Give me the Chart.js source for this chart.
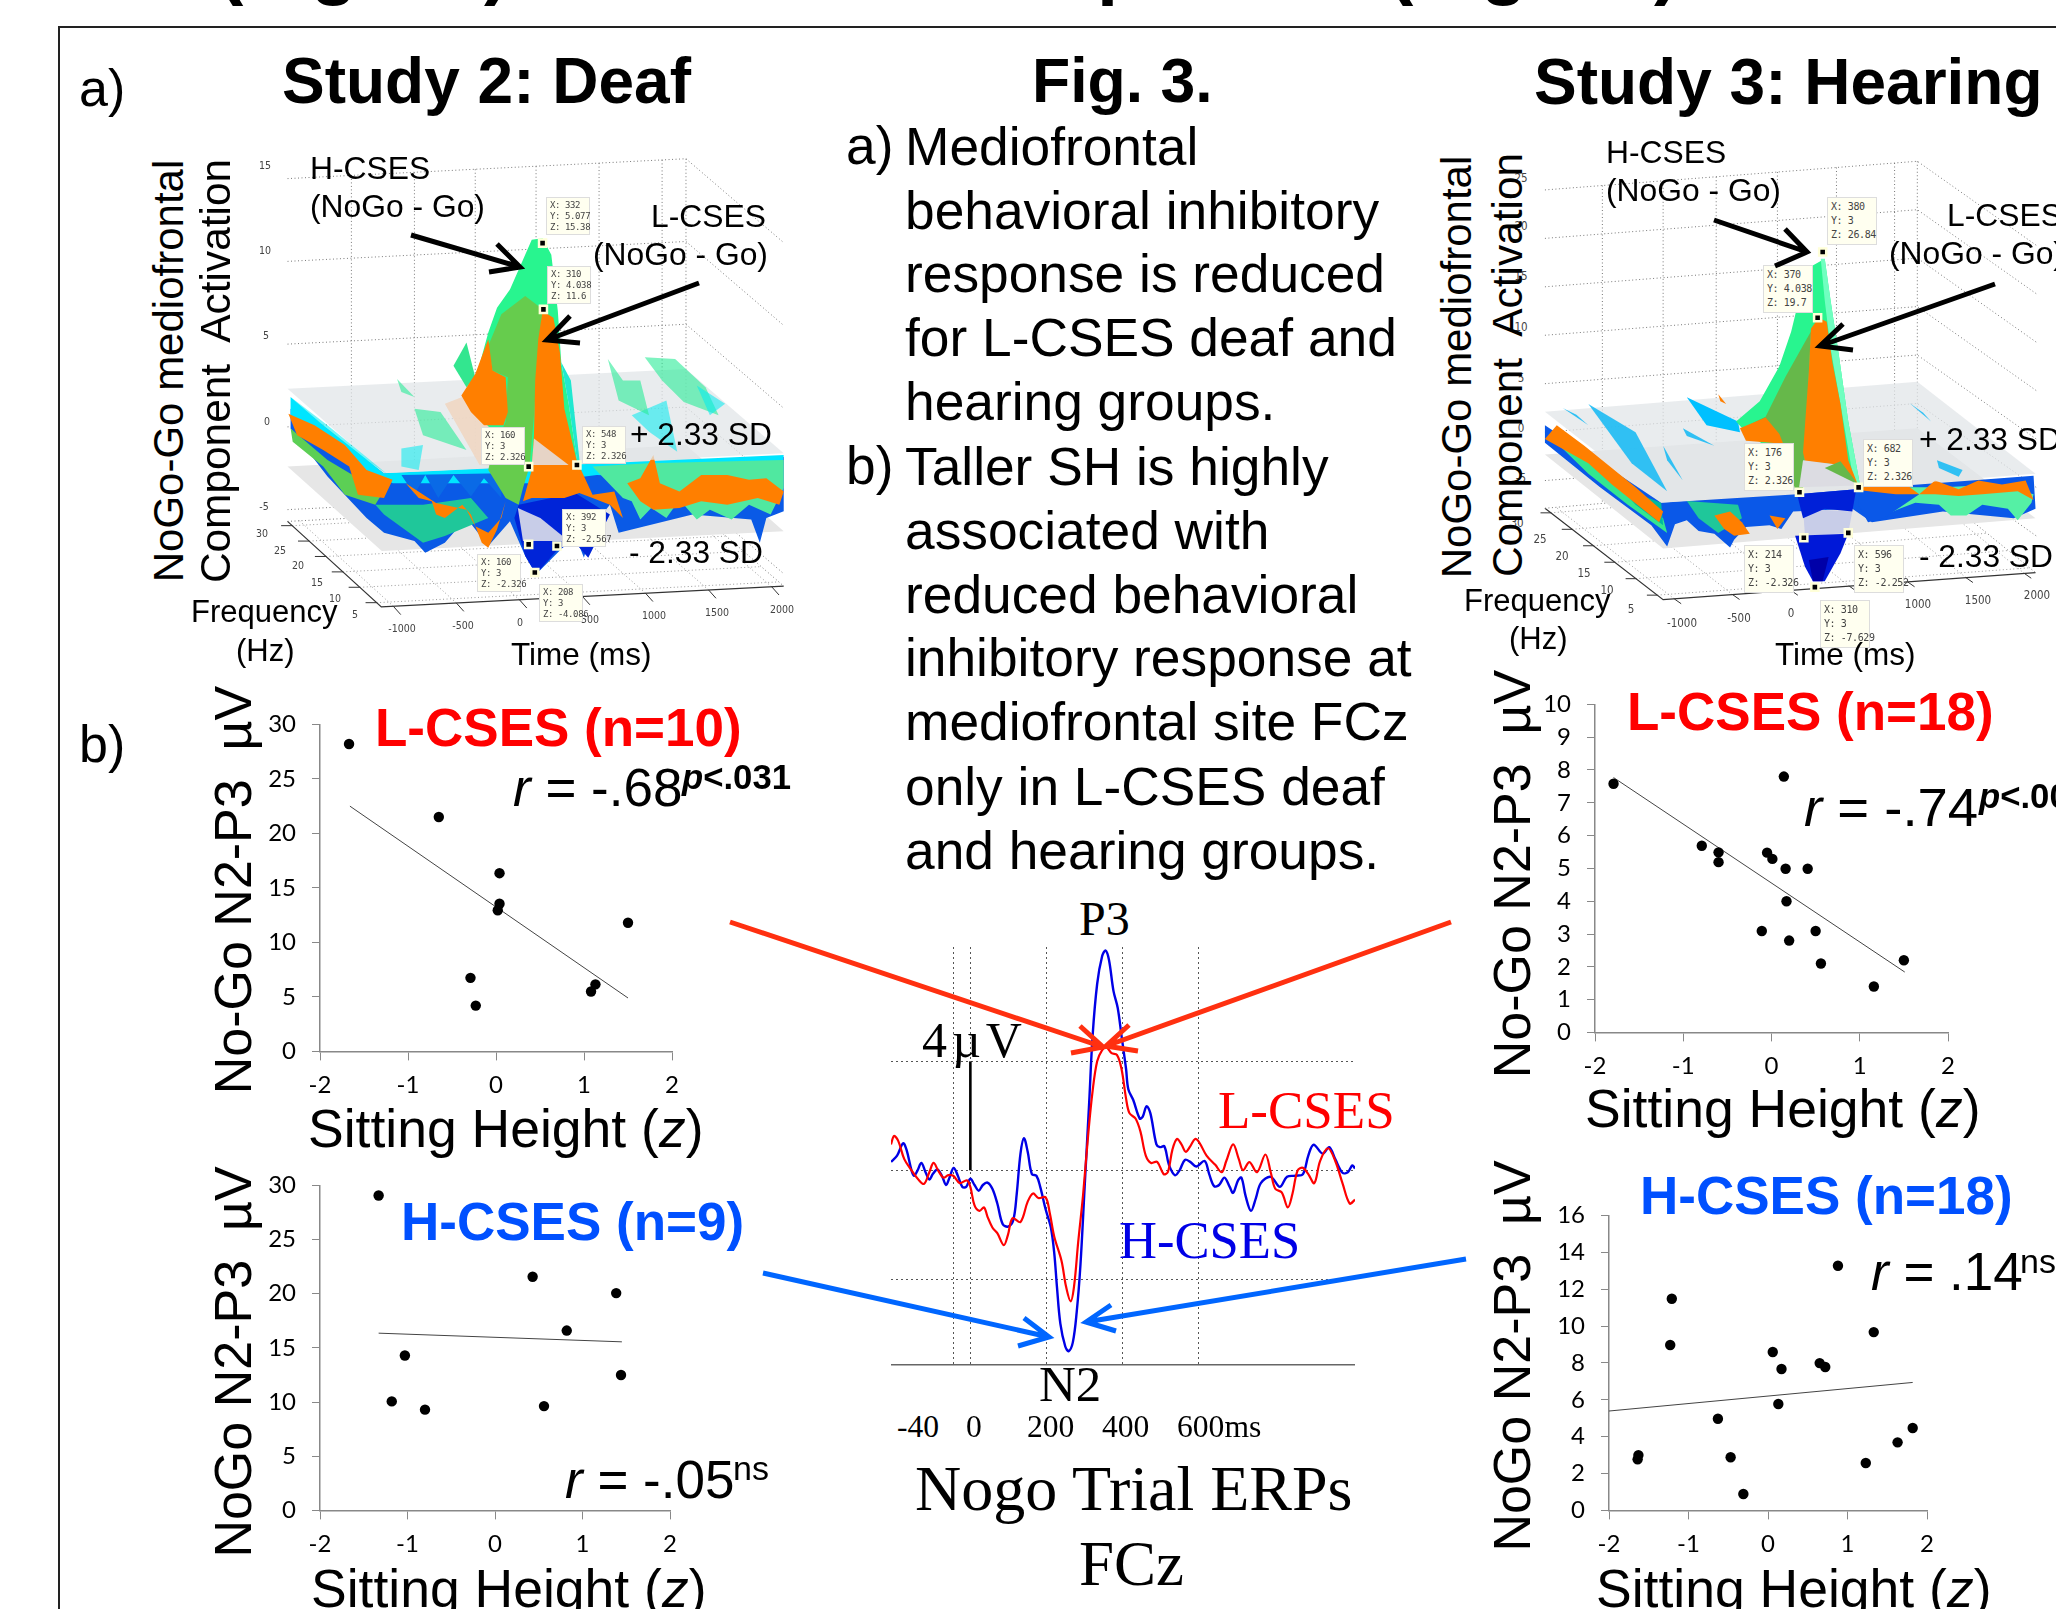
<!DOCTYPE html>
<html>
<head>
<meta charset="utf-8">
<title>Fig. 3</title>
<script src="https://cdn.jsdelivr.net/npm/chart.js@4/dist/chart.umd.min.js"></script>
<style>
  html, body { margin: 0; background: #fff; }
  #stage { position: relative; width: 2056px; height: 1609px; overflow: hidden; background: #fff; }
  #stage canvas { position: absolute; }
  #frame { position: absolute; left: 58px; top: 26px; width: 2100px; height: 1700px; border-left: 2px solid #222; border-top: 2px solid #222; }
  #arrows { position: absolute; left: 0; top: 0; z-index: 5; }
  .t { position: absolute; white-space: pre; line-height: 1; color: #000; z-index: 4; font-family: "Liberation Sans", sans-serif; }
  .tip { position: absolute; white-space: pre; background: #fffff0; border: 1px solid #ddd; color: #444; z-index: 3; font-family: "DejaVu Sans Mono", monospace; padding: 2px 1px 0 3px; box-sizing: border-box; }
</style>
</head>
<body>
<div id="stage">
  <div id="frame"></div>
  <svg id="arrows" width="2056" height="1609" fill="none" stroke-width="5">
    <g stroke="#ff3010">
      <path d="M730 922L1103 1047M1080 1026L1103 1047L1071 1053"/>
      <path d="M1451 922L1106 1046M1129 1025L1106 1046L1138 1051"/>
    </g>
    <g stroke="#0066ff">
      <path d="M763 1273L1049 1337M1024 1318L1049 1337L1018 1346"/>
      <path d="M1466 1259L1086 1322M1111 1305L1086 1322L1116 1331"/>
    </g>
    <g stroke="#000">
      <path d="M411 235L520 267M497 244L520 267L489 272"/>
      <path d="M699 283L547 340M570 316L547 340L580 343"/>
      <path d="M1714 220L1807 252M1785 229L1807 252L1775 266"/>
      <path d="M1995 284L1820 346M1843 324L1820 346L1853 350"/>
    </g>
  </svg>
</div>
<script>
// scatter panels: sitting height z against N2-P3 amplitude
const deafLowX = [-1.67, -0.65, 0.04, 0.04, 0.02, 1.5, -0.29, -0.23, 1.08, 1.13]
const deafLowY = [28.2, 21.5, 16.35, 13.55, 12.95, 11.8, 6.75, 4.2, 5.5, 6.15]
const deafLowTrend = [[-1.66, 22.5], [1.5, 4.9]]

const deafHighX = [-1.33, 0.43, 1.385, 0.82, -1.03, 1.44, -1.18, -0.8, 0.56]
const deafHighY = [29.07, 21.57, 20.06, 16.6, 14.3, 12.5, 10.06, 9.3, 9.63]
const deafHighTrend = [[-1.33, 16.36], [1.45, 15.56]]

const hearLowX = [-1.79, 0.14, -0.79, -0.6, -0.6, -0.05, 0.01, 0.16, 0.41, 0.17, -0.11, 0.5, 0.2, 0.56, 1.16, 1.5]
const hearLowY = [7.58, 7.8, 5.69, 5.49, 5.19, 5.48, 5.29, 4.99, 4.99, 4.0, 3.09, 3.09, 2.8, 2.1, 1.4, 2.2]
const hearLowTrend = [[-1.79, 7.77], [1.51, 1.84]]

const hearHighX = [0.88, -1.21, -1.23, 1.33, 0.06, 0.17, 0.65, 0.72, 0.13, -0.63, -0.47, -0.31, -1.63, -1.64, 1.23, 1.63, 1.82]
const hearHighY = [13.27, 11.48, 8.97, 9.67, 8.59, 7.67, 7.99, 7.78, 5.77, 4.97, 2.88, 0.89, 3.0, 2.77, 2.57, 3.69, 4.47]
const hearHighTrend = [[-2, 5.39], [1.82, 6.94]]

// ERP traces at FCz
const blueMs = [-209, -193, -177, -168, -155, -148, -139, -129, -118, -108, -99, -87, -75, -64, -55, -44, -33, -21, -11, 0, 11, 22, 33, 45, 58, 71, 85, 99, 113, 122, 132, 141, 151, 162, 174, 184, 198, 212, 221, 228, 237, 250, 259, 270, 280, 290, 301, 313, 322, 334, 347, 356, 365, 377, 388, 398, 410, 416, 429, 446, 454, 464, 474, 490, 499, 511, 523, 539, 551, 565, 579, 595, 617, 629, 642, 655, 669, 683, 692, 705, 714, 725, 739, 752, 765, 791, 815, 834, 857, 876, 890, 904, 928, 945, 961, 980, 994, 1006, 1013]
const blueUv = [0.31, 0.54, 0.99, 0.75, 0, -0.2, 0, 0.27, -0.07, -0.34, -0.14, 0.03, -0.2, -0.54, -0.27, 0.09, -0.2, -0.61, -0.61, -0.31, -0.54, -0.75, -0.54, -0.45, -0.68, -1.22, -1.97, -2.07, -1.83, -0.88, 0.61, 1.18, 0.68, -0.14, -0.2, -0.61, -1.42, -2.1, -3.05, -4.27, -5.63, -6.47, -6.64, -6.31, -5.22, -3.46, -0.61, 2.51, 4.95, 6.85, 7.86, 8.07, 7.73, 6.58, 5.97, 4.95, 3.73, 2.98, 2.58, 1.9, 1.97, 2.35, 2.1, 0.95, 0.85, 0.88, 0.2, -0.18, 0, 0.38, 0.31, 0.14, 0.34, -0.14, -0.58, -0.54, -0.27, -0.61, -0.83, -0.37, -0.27, -0.95, -1.49, -1.02, -0.47, -0.24, -0.61, -0.24, -0.2, -0.14, 0.54, 0.94, 0.61, 0.85, 0.41, -0.09, -0.07, 0.18, 0.07]
const redMs = [-209, -201, -190, -174, -155, -137, -122, -108, -97, -85, -71, -58, -45, -28, -9, 0, 11, 24, 36, 45, 58, 71, 88, 99, 111, 132, 151, 165, 179, 198, 209, 221, 240, 252, 264, 273, 284, 297, 311, 322, 334, 347, 358, 372, 386, 398, 410, 419, 435, 448, 462, 476, 492, 509, 520, 532, 544, 556, 567, 579, 592, 603, 622, 645, 662, 674, 692, 707, 718, 735, 755, 777, 791, 803, 820, 836, 848, 862, 876, 890, 906, 921, 942, 961, 980, 999, 1013]
const redUv = [0.95, 1.26, 1.08, 0.41, 0, -0.34, -0.5, -0.07, 0.27, 0, -0.27, -0.18, -0.2, -0.47, -0.37, -0.61, -1.29, -1.49, -1.36, -1.7, -2.1, -2.31, -2.75, -2.37, -1.76, -1.9, -1.15, -0.85, -1.02, -0.99, -1.56, -2.44, -3.32, -4.27, -4.81, -4.27, -2.64, -0.88, 1.42, 2.92, 4.0, 4.41, 4.52, 4.3, 4.24, 3.73, 2.64, 2.1, 1.9, 1.42, 0.54, 0.27, 0.31, -0.14, -0.07, 0.75, 1.15, 0.95, 0.68, 0.88, 1.15, 1.02, 0.54, 0.2, -0.07, 0.34, 0.95, 0.41, 0, 0.3, -0.07, 0.58, -0.07, -0.68, -0.81, -1.36, -0.88, 0, 0.09, -0.14, -0.47, 0.34, 0.81, 0.34, -0.47, -1.22, -1.08]
const erpGridMs = [-45, 0, 200, 400, 600]
const erpGridUv = [-4, 0, 4]
const erpBarUv = [0, 4]

// Study 2 surface, outlines as [time ms, activation] in the projected view
const deafLowerPlane = [[-1878, -2.4], [1359, -1.1], [2153, -6.3], [-1112, -7.5]]
const deafUpperPlane = [[-1878, 2.3], [1359, 3.5], [2153, -1.6], [-1094, -2.8]]
const deafBlue = [[-1853, 1.1], [-1094, -2.8], [106, -2.6], [2153, -1.8], [2153, -5.1], [2012, -5.5], [1959, -7], [1889, -5.6], [1412, -5.3], [812, -6.4], [741, -4.7], [600, -6], [530, -7.9], [441, -6.2], [371, -7.2], [141, -8.9], [53, -7.8], [-71, -5.7], [-247, -7.2], [-424, -5.5], [-600, -7], [-759, -7.6], [-847, -6.9], [-1094, -6.4], [-1236, -5.5], [-1553, -3], [-1853, -0.1]]
const deafDeep = [[0, -4.7], [459, -4], [741, -5.3], [565, -7.9], [459, -7], [318, -7.4], [141, -8.9], [53, -7.8], [-35, -5.5]]
const deafWedge = [[-7, -4.9], [176, -5.5], [406, -6.9], [35, -6.9]]
const deafCyan = [[-1853, 1.8], [-1588, 0.1], [-1094, -2.8], [2153, -1.7], [2118, -3.4], [1518, -3.2], [635, -2.9], [106, -3.4], [-600, -3.4], [-1024, -3.4], [-1412, -2], [-1853, 0.7]]
const deafBlueSpikes = [[-953, -2.9], [-847, -4.1], [-759, -2.9], [-653, -4.3], [-530, -2.9], [-388, -4.2], [-282, -3.1], [-141, -4.3], [-141, -2.8]]
const deafGreenRight = [[918, -4.5], [988, -5.6], [1077, -4.9], [1200, -5.5], [1306, -4.4], [1447, -5.6], [1553, -5], [1730, -5.6], [1871, -4.7], [2047, -5.3], [2153, -3.7], [2153, -2], [1059, -2.2], [600, -2.4], [847, -4.3]]
const deafGreenMid = [[-1165, -4.7], [-777, -4.7], [-388, -4.3], [-247, -5.5], [-600, -6.6], [-777, -7], [-1094, -5.3]]
const deafGreenLeft = [[-1853, -0.1], [-1553, -2], [-1236, -3.4], [-1059, -3.4], [-1165, -4.7], [-1412, -4.1], [-1588, -2.4], [-1836, -0.9]]
const deafOrangeLeft = [[-1871, 0.8], [-1659, 0.1], [-1412, -1.1], [-1236, -2.6], [-1024, -3.2], [-1094, -4.3], [-1306, -4.1], [-1377, -2.4], [-1588, -1.4], [-1800, -0.5]]
const deafOrangeMid = [[-918, -3.4], [-812, -4.3], [-706, -4.5], [-671, -5.3], [-600, -5.5], [-459, -4.7], [-388, -5.3], [-300, -7], [-247, -7.3], [-176, -6.2], [-106, -4.5], [-141, -5.5], [-247, -6.4], [-353, -6], [-424, -5], [-671, -4.6]]
const deafOrangeRight = [[882, -3.4], [988, -3.1], [1094, -1.7], [1147, -3.4], [1306, -3.9], [1483, -2.9], [1695, -2.9], [1871, -3.2], [2012, -3.1], [2153, -3.9], [2118, -4.7], [1942, -4.3], [1695, -4.7], [1483, -4.5], [1306, -4.9], [1094, -5], [988, -4.5]]
const deafOrangeCentre = [[494, -2.4], [600, -4.1], [777, -3.9], [847, -5.5], [741, -4.7], [600, -4.3], [459, -3.9]]
const deafPatchA = [[1024, 4.2], [1271, 4.1], [1518, 2.4], [1624, 0.7], [1341, 1.5], [1165, 2.8]]
const deafPatchB = [[918, 0.7], [1200, 1.6], [1288, -1.5], [1059, -0.3]]
const deafPatchC = [[1447, 2.5], [1677, 1.4], [1553, 0.7]]
const deafPatchD = [[-988, 2.9], [-847, 1.8], [-953, 2.1]]
const deafPatchE = [[-847, 1.1], [-635, 0.9], [-424, -1.4], [-777, -0.5]]
const deafPatchF = [[-530, 3.7], [-424, 5.1], [-353, 3], [-424, 2.4]]
const deafPatchG = [[-1853, 1.8], [-1553, 0.1], [-1059, -2.9], [-1412, -1.1]]
const deafPatchH = [[724, 4.1], [847, 2.8], [988, 2.8], [1059, 0.7], [812, 1.6]]
const deafPatchI = [[-953, -1.3], [-777, -1.1], [-812, -2.6], [-953, -2.4]]
const deafPeakGreen = [[-353, 2.8], [-247, 5.7], [-176, 7.2], [-71, 8.3], [35, 10.1], [106, 11.3], [194, 11.4], [265, 10.4], [318, 7], [346, 3.9], [406, 1.4], [476, -2.1], [106, -2.3], [-71, -1.4], [-353, 0.9]]
const deafPeakTail = [[346, 3.9], [424, 2.8], [494, -2], [476, -2.1], [406, 1.4]]
const deafPeakDark = [[-247, 4.9], [-141, 6.8], [53, 7.9], [194, 7.1], [159, 4.5], [124, 0.7], [88, -2.4], [35, -3.7], [0, -4.7], [-106, -4.3], [-247, -2.6], [-212, -1.4], [-106, 0.3], [-88, 3], [-212, 3.4]]
const deafPeakLobe = [[-466, 1.9], [-353, 3.2], [-247, 5.3], [-212, 3.4], [-106, 3], [-88, 0.9], [-124, 0.1], [-282, 0.1], [-388, 0.9]]
const deafPeakTint = [[-600, 1.4], [-459, 1.8], [-282, 0.1], [-124, 0.1], [-88, -2.4], [-318, -2.3]]
const deafPeakOrange = [[194, 7], [282, 6.6], [335, 4.5], [371, 1.1], [476, -2.2], [530, -3.9], [371, -4.3], [106, -4.3], [35, -4.5], [106, -2.6], [124, -0.5], [134, 2.8], [159, 5.3]]
const deafPeakPeach = [[124, -0.7], [406, -2.3], [106, -2.3]]
const deafTipMs = [194, 201, 81, 473, 311, 81, 131]
const deafTipUv = [11.1, 7.1, -2.4, -2.3, -7.2, -7.1, -8.8]

// Study 3 surface
const hearLowerPlane = [[-2144, -2.3], [1098, 0.4], [2127, -8.9], [-1115, -12]]
const hearUpperPlane = [[-2144, 2.1], [1098, 5.2], [2127, -4.3], [-1132, -7.3]]
const hearBlue = [[-2144, 0.7], [-1132, -7.3], [51, -6.4], [566, -5.9], [2110, -4.5], [2127, -7.9], [1938, -8.9], [1321, -8.2], [703, -9.3], [532, -7.9], [17, -8.2], [-86, -10], [-189, -9.6], [-394, -9.8], [-497, -11.1], [-532, -11.9], [-669, -10.5], [-806, -10.2], [-909, -9.1], [-1012, -9.5], [-1080, -11.8], [-1218, -9.6], [-1664, -5.7], [-2144, -1.1]]
const hearGreenStrip = [[-2041, 0], [-1766, -2.5], [-1355, -6.8], [-1115, -8.9], [-1080, -10.4], [-1423, -7.5], [-1766, -4.3], [-2075, -0.7]]
const hearTeal = [[-1492, -5.7], [-1132, -7.3], [-1115, -9.6], [-1355, -7.5]]
const hearOrangeStrip = [[-2041, 0.7], [-1801, -1.4], [-1355, -5.7], [-1115, -8.2], [-1149, -9.3], [-1561, -5.4], [-1766, -3.2], [-2144, -0.7]]
const hearOrangeMid = [[-669, -8.6], [-532, -8.2], [-429, -9.3], [-360, -10.5], [-497, -10.7], [-583, -10]]
const hearOrangeMidB = [[-189, -8.6], [-51, -8.9], [-120, -10]]
const hearGreenMid = [[-909, -7.1], [-463, -7.5], [-429, -8.9], [-635, -10.4], [-806, -8.9]]
const hearOrangeRight = [[600, -5.7], [977, -5.2], [1115, -6.4], [1252, -5], [1458, -5.9], [1629, -5], [1835, -5.4], [2041, -5], [2110, -7], [1972, -6.1], [1664, -6.4], [1458, -6.6], [1252, -6.4], [909, -6.4], [600, -6]]
const hearGreenRight = [[635, -6.4], [909, -5.7], [1321, -5.7], [1801, -5.4], [2110, -6.4], [2092, -7.3], [1972, -9.1], [1886, -7.9], [1664, -7.5], [1526, -8.6], [1389, -8.6], [1286, -7.5], [1080, -7.3], [943, -7.9], [806, -8.6], [703, -7.9]]
const hearBlueRight = [[600, -5.9], [909, -5.7], [1115, -6.4], [806, -8.9], [669, -9.3], [583, -7.5]]
const hearWedge = [[103, -7.9], [532, -8.2], [497, -10.4], [120, -10.7]]
const hearDeep = [[34, -10.7], [497, -10.5], [429, -12.5], [292, -15.4], [189, -15.4], [120, -13.9]]
const hearDeepest = [[154, -13.2], [326, -12.9], [274, -15.4], [189, -15.4]]
const hearDeepTop = [[51, -6.4], [566, -5.9], [532, -8.2], [292, -7.9], [103, -8.9]]
const hearPatchA = [[-1766, 2.9], [-1355, 0], [-1080, -6.1], [-1389, -3.2]]
const hearPatchB = [[-909, 3.6], [-463, 1.1], [-446, 0], [-737, 0.7]]
const hearPatchC = [[-1115, -1.4], [-943, -5], [-1080, -2.9]]
const hearPatchD = [[-943, 0.4], [-669, -1.4], [-909, -0.4]]
const hearPatchE = [[1269, -2.9], [1492, -3.9], [1458, -4.6], [1286, -3.7]]
const hearPatchF = [[1029, 3], [1218, 1.1], [1149, 2]]
const hearPatchG = [[-635, 3.9], [-566, 2.9], [-617, 3.2]]
const hearPatchH = [[-1989, 2.5], [-1766, 0.7], [-1870, 1.8]]
const hearPeakGreen = [[-480, 1.1], [-274, 3.2], [-103, 6.8], [0, 10.4], [86, 14.6], [172, 17.1], [292, 17.9], [343, 13.6], [412, 8.2], [497, 1.1], [600, -5.5], [497, -5.4], [120, -4.3], [-394, 0]]
const hearPeakPale = [[257, 17.9], [292, 17.9], [343, 13.6], [412, 8.2], [497, 1.1], [600, -5.5], [549, -5.4], [429, 2.9], [343, 8.6], [292, 13.6]]
const hearPeakDark = [[-429, 0.4], [-223, 1.6], [-51, 5.7], [120, 9.3], [172, 10.4], [103, -5.9], [34, -5.9], [-103, -0.4]]
const hearPeakOrange = [[172, 10.7], [240, 11.8], [309, 11.4], [360, 7.1], [429, 2.9], [497, -2.9], [583, -5.5], [429, -3.4], [120, -3], [103, -2.1], [154, 6.4]]
const hearPeakLobe = [[-446, 0.4], [-223, 1.5], [-103, -0.2], [-69, -1.2], [-394, -0.9]]
const hearPeakPeach = [[103, -2.9], [429, -3.4], [583, -5.5], [69, -5.7]]
const hearPeakBase = [[292, -3.7], [429, -3], [583, -5.4]]
const hearTipMs = [274, 230, 72, 587, 110, 497, 206]
const hearTipUv = [18.6, 11.8, -6.2, -5.7, -10.9, -10.4, -16]

const stage = document.getElementById("stage")

function addCanvas(left, top, width, height) {
  const canvas = document.createElement("canvas")
  canvas.width = width
  canvas.height = height
  canvas.style.left = `${left}px`
  canvas.style.top = `${top}px`
  canvas.style.width = `${width}px`
  canvas.style.height = `${height}px`
  stage.appendChild(canvas)
  return canvas.getContext("2d")
}

function addText(text, left, cy, size, extra = {}) {
  const el = document.createElement("div")
  el.className = "t"
  el.innerHTML = text
  el.style.left = `${left}px`
  el.style.top = `${cy}px`
  el.style.fontSize = `${size}px`
  el.style.transform = "translateY(-50%)"
  Object.assign(el.style, extra)
  stage.appendChild(el)
}

function addVertical(text, cx, cy, size) {
  addText(text, cx, cy, size, { transform: "translate(-50%, -50%) rotate(-90deg)" })
}

function toPoints(xs, ys) {
  return xs.map((x, i) => ({ x, y: ys[i] }))
}

function pairsToPoints(pairs) {
  return pairs.map(([x, y]) => ({ x, y }))
}

// moves and resizes the canvas so the plot area lands exactly on box
function fitToBox(chart, box) {
  const area = chart.chartArea
  const right = chart.width - area.right
  const bottom = chart.height - area.bottom
  const width = box.r - box.l
  const height = box.b - box.t
  const canvas = chart.canvas
  const { left, top } = area
  chart.resize(width + left + right, height + top + bottom)
  canvas.style.left = `${box.l - left}px`
  canvas.style.top = `${box.t - top}px`
}

function scatterPanel(box, xs, ys, trend, yMax, yStep) {
  const padLeft = 70
  const padRight = 25
  const padTop = 20
  const padBottom = 62
  const width = box.r - box.l
  const height = box.b - box.t
  const ctx = addCanvas(box.l - padLeft, box.t - padTop, width + padLeft + padRight, height + padTop + padBottom)
  const tickFont = { family: "Lato", size: 24 }

  const chart = new Chart(ctx, {
    type: "scatter",
    data: {
      datasets: [
        {
          data: toPoints(xs, ys),
          backgroundColor: "#000",
          pointRadius: 5.2,
          pointBorderWidth: 0,
        },
        {
          data: pairsToPoints(trend),
          showLine: true,
          borderColor: "#444",
          borderWidth: 1,
          pointRadius: 0,
        },
      ],
    },
    options: {
      responsive: false,
      maintainAspectRatio: false,
      animation: false,
      layout: { padding: { top: padTop, right: padRight } },
      plugins: { legend: { display: false }, tooltip: { enabled: false } },
      scales: {
        x: {
          type: "linear",
          min: -2,
          max: 2,
          afterFit: (s) => { s.height = padBottom },
          ticks: { stepSize: 1, color: "#000", font: tickFont, padding: 10, maxRotation: 0 },
          grid: { drawOnChartArea: false, color: "#888", tickLength: 9 },
          border: { color: "#888", width: 1.5 },
        },
        y: {
          min: 0,
          max: yMax,
          afterFit: (s) => { s.width = padLeft },
          ticks: { stepSize: yStep, color: "#000", font: tickFont, padding: 16 },
          grid: { drawOnChartArea: false, color: "#888", tickLength: 8 },
          border: { color: "#888", width: 1.5 },
        },
      },
    },
  })
  fitToBox(chart, box)
}

function erpPanel() {
  const box = { l: 891, r: 1355, t: 947, b: 1365 }
  const ctx = addCanvas(box.l, box.t, box.r - box.l, box.b - box.t + 2)

  new Chart(ctx, {
    type: "scatter",
    data: {
      datasets: [
        { data: toPoints(redMs, redUv), showLine: true, borderColor: "#ff0000", borderWidth: 2.2, pointRadius: 0, tension: 0.35 },
        { data: toPoints(blueMs, blueUv), showLine: true, borderColor: "#0000e6", borderWidth: 2.4, pointRadius: 0, tension: 0.35 },
        { data: erpBarUv.map((y) => ({ x: 0, y })), showLine: true, borderColor: "#000", borderWidth: 2.6, pointRadius: 0 },
      ],
    },
    options: {
      responsive: false,
      animation: false,
      layout: { padding: { bottom: 2 } },
      plugins: { legend: { display: false }, tooltip: { enabled: false } },
      scales: {
        x: {
          type: "linear",
          min: -209,
          max: 1013,
          afterBuildTicks: (s) => { s.ticks = erpGridMs.map((value) => ({ value })) },
          afterFit: (s) => { s.height = 0 },
          ticks: { display: false },
          grid: { color: "#555", drawTicks: false, lineWidth: 1 },
          border: { dash: [2, 3], color: "#666", width: 1.5 },
        },
        y: {
          min: -7.15,
          max: 8.2,
          afterBuildTicks: (s) => { s.ticks = erpGridUv.map((value) => ({ value })) },
          afterFit: (s) => { s.width = 0 },
          ticks: { display: false },
          grid: { color: "#555", drawTicks: false, lineWidth: 1 },
          border: { display: false, dash: [2, 3] },
        },
      },
    },
  })
}

// polygons are listed back to front, chart.js paints the last dataset first
function surfacePanel(box, range, polygons, guides, tipPoints) {
  const ctx = addCanvas(box.l, box.t, box.r - box.l, box.b - box.t)
  const datasets = []

  polygons.forEach(([pairs, color]) => {
    datasets.push({
      data: pairsToPoints(pairs),
      showLine: true,
      fill: "shape",
      backgroundColor: color,
      borderWidth: 0,
      pointRadius: 0,
    })
  })
  guides.forEach(([pairs, color, width, dash]) => {
    datasets.unshift({
      data: pairsToPoints(pairs),
      showLine: true,
      borderColor: color,
      borderWidth: width,
      borderDash: dash,
      pointRadius: 0,
    })
  })
  datasets.push({
    data: tipPoints,
    pointStyle: "rect",
    pointRadius: 5,
    backgroundColor: "#000",
    pointBorderColor: "#ffffd8",
    pointBorderWidth: 2.5,
  })

  new Chart(ctx, {
    type: "scatter",
    data: { datasets: datasets.reverse() },
    options: {
      responsive: false,
      animation: false,
      plugins: { legend: { display: false }, tooltip: { enabled: false } },
      scales: {
        x: { type: "linear", display: false, min: range.tMin, max: range.tMax },
        y: { display: false, min: range.zMin, max: range.zMax },
      },
    },
  })
}

function lerp(a, b, f) {
  return [a[0] + (b[0] - a[0]) * f, a[1] + (b[1] - a[1]) * f]
}

function boxGuides(zTicks, left, back, right, floor, backRise, rightDrop, verticals, zTop, zBottom) {
  const dotted = [1, 2.5]
  const guides = []
  zTicks.forEach((z) => {
    guides.push([[[left, z], [back, z + backRise], [right, z - rightDrop]], "#777", 1, dotted])
  })
  verticals.forEach((t) => {
    const rise = (backRise * (t - left)) / (back - left)
    guides.push([[[t, zTop + rise], [t, zBottom + rise]], "#777", 1, dotted])
  })
  guides.push([[[back, zTop + backRise], [back, floor[3][1]]], "#777", 1, dotted])
  guides.push([[floor[3], floor[2]], "#777", 1, dotted])
  guides.push([[floor[0], floor[3]], "#777", 1, dotted])
  guides.push([[floor[0], floor[1], floor[2]], "#333", 1.2, []])
  // short axis ticks and the floor grid they lead into
  for (let i = 0; i <= 6; i++) {
    const start = lerp(floor[1], floor[2], 0.03 + (i * 0.94) / 6)
    guides.push([[start, [start[0] + 60, start[1] - 0.5]], "#333", 1, []])
    guides.push([[start, lerp(floor[0], floor[3], 0.03 + (i * 0.94) / 6)], "#999", 1, dotted])
  }
  for (let i = 0; i <= 5; i++) {
    const start = lerp(floor[1], floor[0], 0.05 + (i * 0.9) / 5)
    guides.push([[start, [start[0] - 90, start[1]]], "#333", 1, []])
    guides.push([[start, lerp(floor[2], floor[3], 0.05 + (i * 0.9) / 5)], "#999", 1, dotted])
  }
  return guides
}

function addTips(tips, size, width, height, lineHeight) {
  tips.forEach(([text, left, top]) => {
    const el = document.createElement("div")
    el.className = "tip"
    el.textContent = text
    el.style.left = `${left}px`
    el.style.top = `${top}px`
    el.style.width = `${width}px`
    el.style.height = `${height}px`
    el.style.fontSize = `${size}px`
    el.style.lineHeight = `${lineHeight}px`
    el.style.letterSpacing = "-0.4px"
    stage.appendChild(el)
  })
}

function addSmallLabels(items, size) {
  items.forEach(([text, cx, cy]) => {
    addText(text, cx, cy, size, {
      transform: "translate(-50%, -50%)",
      fontFamily: '"DejaVu Sans", sans-serif',
      fontStretch: "condensed",
      color: "#444",
      zIndex: 2,
    })
  })
}

const ORANGE = "#ff7f00"
const GREEN = "#33e68f"
const PLANE = "rgba(226, 229, 232, 0.75)"
const TINT_GREEN = "rgba(40, 235, 150, 0.6)"
const TINT_CYAN = "rgba(0, 235, 240, 0.55)"
const TINT_BLUE = "rgba(16, 184, 245, 0.85)"

surfacePanel(
  { l: 265, r: 797, t: 138, b: 633 },
  { tMin: -2000, tMax: 2200, zMin: -12, zMax: 17 },
  [
    [deafLowerPlane, "#e6e6e6"],
    [deafBlue, "#0a5ae6"],
    [deafCyan, "#00e5ff"],
    [deafBlueSpikes, "#0a6ae6"],
    [deafGreenRight, "#50e8a0"],
    [deafGreenMid, "#1fc79a"],
    [deafGreenLeft, "#5ccf55"],
    [deafOrangeLeft, ORANGE],
    [deafOrangeMid, ORANGE],
    [deafOrangeRight, ORANGE],
    [deafOrangeCentre, ORANGE],
    [deafDeep, "#0024d8"],
    [deafWedge, "#c8cde8"],
    [deafUpperPlane, PLANE],
    [deafPatchA, TINT_GREEN],
    [deafPatchB, TINT_CYAN],
    [deafPatchC, TINT_CYAN],
    [deafPatchD, TINT_GREEN],
    [deafPatchE, TINT_GREEN],
    [deafPatchF, GREEN],
    [deafPatchG, TINT_CYAN],
    [deafPatchH, TINT_GREEN],
    [deafPatchI, TINT_CYAN],
    [deafPeakTint, "rgba(240, 215, 195, 0.9)"],
    [deafPeakGreen, "#28f58f"],
    [deafPeakTail, "#20e8d0"],
    [deafPeakDark, "#66cc4d"],
    [deafPeakLobe, ORANGE],
    [deafPeakOrange, ORANGE],
    [deafPeakPeach, "#e6d4c6"],
  ],
  boxGuides(
    [15, 10, 5, 0, -5], -1878, 1359, 2153,
    [[-1878, -5.71], [-1116, -10.88], [2153, -9.62], [1359, -4.5]],
    1.2, 3.87,
    [-1359, -847, -353, 141, 653, 1165], 15, -5.7
  ),
  toPoints(deafTipMs, deafTipUv)
)

surfacePanel(
  { l: 1531, r: 2056, t: 134, b: 614 },
  { tMin: -2200, tMax: 2240, zMin: -18, zMax: 30 },
  [
    [hearLowerPlane, "#e6e6e6"],
    [hearBlue, "#0a58e8"],
    [hearGreenStrip, GREEN],
    [hearTeal, "#00b8a0"],
    [hearOrangeStrip, ORANGE],
    [hearGreenMid, "#1fc79a"],
    [hearOrangeMid, ORANGE],
    [hearOrangeMidB, ORANGE],
    [hearGreenRight, "#55f0a5"],
    [hearBlueRight, "#0a58e8"],
    [hearOrangeRight, ORANGE],
    [hearWedge, "#c8cde8"],
    [hearDeep, "#0018d8"],
    [hearDeepest, "#0000a8"],
    [hearDeepTop, "#0020d8"],
    [hearUpperPlane, PLANE],
    [hearPatchA, TINT_BLUE],
    [hearPatchB, "#00c0ff"],
    [hearPatchC, TINT_BLUE],
    [hearPatchD, TINT_BLUE],
    [hearPatchE, TINT_BLUE],
    [hearPatchF, TINT_BLUE],
    [hearPatchG, ORANGE],
    [hearPatchH, TINT_BLUE],
    [hearPeakGreen, "#28f58f"],
    [hearPeakPale, "#70ffc0"],
    [hearPeakDark, "#66b84a"],
    [hearPeakOrange, ORANGE],
    [hearPeakLobe, ORANGE],
    [hearPeakPeach, "#dcdce2"],
    [hearPeakBase, "#66b84a"],
  ],
  boxGuides(
    [25, 20, 15, 10, 5, 0, -5], -2144, 1098, 2144,
    [[-2144, -7.86], [-1115, -17.3], [2127, -14.5], [1098, -4.6]],
    2.96, 5.8,
    [-1644, -1115, -653, -120, 394, 900], 25, -7.8
  ),
  toPoints(hearTipMs, hearTipUv)
)

scatterPanel({ l: 320, r: 672, t: 724, b: 1051 }, deafLowX, deafLowY, deafLowTrend, 30, 5)
scatterPanel({ l: 320, r: 670, t: 1185, b: 1510 }, deafHighX, deafHighY, deafHighTrend, 30, 5)
scatterPanel({ l: 1595, r: 1948, t: 704, b: 1032 }, hearLowX, hearLowY, hearLowTrend, 10, 1)
scatterPanel({ l: 1609, r: 1927, t: 1215, b: 1510 }, hearHighX, hearHighY, hearHighTrend, 16, 2)
erpPanel()

// clipped caption from the slide above the frame
const clippedBold = { fontWeight: "bold", lineHeight: "80px", height: "80px" }
addText("(Fig. 3a)", 218, -36, 76, clippedBold)
addText("p", 1097, -36, 76, clippedBold)
addText("(Fig. 3a)", 1388, -36, 76, clippedBold)

addText("a)", 79, 88, 52)
addText("b)", 79, 744, 52)
addText("Study 2: Deaf", 282, 81, 64, { fontWeight: "bold" })
addText("Fig. 3.", 1032, 80, 62.5, { fontWeight: "bold" })
addText("Study 3: Hearing", 1534, 82, 64, { fontWeight: "bold" })

addText("a)", 846, 146, 53.3)
addText("b)", 846, 466, 53.3)
const bodyLines = [
  "Mediofrontal", "behavioral inhibitory", "response is reduced", "for L-CSES deaf and", "hearing groups.",
  "Taller SH is highly", "associated with", "reduced behavioral", "inhibitory response at",
  "mediofrontal site FCz", "only in L-CSES deaf", "and hearing groups.",
]
const bodyY = [147, 211, 274, 338, 402, 467, 531, 595, 658, 722, 787, 851]
bodyLines.forEach((line, i) => addText(line, 905, bodyY[i], 53.3))

addVertical("NoGo-Go mediofrontal", 169, 371, 42)
addVertical("Component  Activation", 216, 371, 42.4)
addVertical("NoGo-Go mediofrontal", 1457, 367, 42)
addVertical("Component  Activation", 1508, 365, 42.4)

addText("H-CSES", 310, 169, 31.8)
addText("(NoGo - Go)", 310, 207, 31.8)
addText("L-CSES", 651, 217, 31.8)
addText("(NoGo - Go)", 593, 255, 31.8)
addText("H-CSES", 1606, 153, 31.8)
addText("(NoGo - Go)", 1606, 191, 31.8)
addText("L-CSES", 1947, 216, 31.8)
addText("(NoGo - Go)", 1889, 254, 31.8)
addText("+ 2.33 SD", 630, 435, 31.7)
addText("- 2.33 SD", 629, 553, 31.7)
addText("+ 2.33 SD", 1919, 440, 31.7)
addText("- 2.33 SD", 1919, 557, 31.7)
addText("Frequency", 191, 611, 31)
addText("(Hz)", 236, 650, 31)
addText("Time (ms)", 511, 655, 31.5)
addText("Frequency", 1464, 600, 31)
addText("(Hz)", 1509, 638, 31)
addText("Time (ms)", 1775, 655, 31.5)

addSmallLabels([
  ["15", 265, 165], ["10", 265, 250], ["5", 266, 335], ["0", 267, 421], ["-5", 264, 506],
  ["30", 262, 533], ["25", 280, 550], ["20", 298, 565], ["15", 317, 582], ["10", 335, 598], ["5", 355, 614],
  ["-1000", 402, 628], ["-500", 463, 625], ["0", 520, 622], ["500", 590, 619], ["1000", 654, 615], ["1500", 717, 612], ["2000", 782, 609],
], 10.5)
addSmallLabels([
  ["25", 1521, 179], ["20", 1521, 227], ["15", 1521, 277], ["10", 1521, 328], ["5", 1521, 379], ["0", 1521, 429], ["-5", 1521, 479],
  ["30", 1517, 524], ["25", 1540, 540], ["20", 1562, 557], ["15", 1584, 574], ["10", 1607, 591], ["5", 1631, 610],
  ["-1000", 1682, 624], ["-500", 1739, 619], ["0", 1791, 614], ["1000", 1918, 605], ["1500", 1978, 601], ["2000", 2037, 596],
], 11.5)

addTips([
  ["X: 332\nY: 5.077\nZ: 15.38", 546, 197],
  ["X: 310\nY: 4.038\nZ: 11.6", 547, 266],
  ["X: 160\nY: 3\nZ: 2.326", 481, 427],
  ["X: 548\nY: 3\nZ: 2.326", 582, 426],
  ["X: 392\nY: 3\nZ: -2.567", 562, 509],
  ["X: 160\nY: 3\nZ: -2.326", 477, 554],
  ["X: 208\nY: 3\nZ: -4.086", 539, 584],
], 9, 44, 38, 11)
addTips([
  ["X: 380\nY: 3\nZ: 26.84", 1827, 197],
  ["X: 370\nY: 4.038\nZ: 19.7", 1763, 265],
  ["X: 176\nY: 3\nZ: 2.326", 1744, 443],
  ["X: 682\nY: 3\nZ: 2.326", 1863, 439],
  ["X: 214\nY: 3\nZ: -2.326", 1744, 545],
  ["X: 596\nY: 3\nZ: -2.252", 1854, 545],
  ["X: 310\nY: 3\nZ: -7.629", 1820, 600],
], 10, 50, 48, 14)

const RED = "#ff0000"
const BLUE = "#0050ff"
addText("L-CSES (n=10)", 375, 727, 53, { fontWeight: "bold", color: RED })
addText("H-CSES (n=9)", 401, 1221, 53, { fontWeight: "bold", color: BLUE })
addText("L-CSES (n=18)", 1627, 711, 53, { fontWeight: "bold", color: RED })
addText("H-CSES (n=18)", 1640, 1195, 53, { fontWeight: "bold", color: BLUE })

addText("<i>r</i> = -.68", 513, 787, 53)
addText("<b><i>p</i>&lt;.031</b>", 682, 777, 34.7)
addText("<i>r</i> = -.05", 565, 1479, 53)
addText("ns", 733, 1468, 34)
addText("<i>r</i> = -.74", 1804, 808, 54.5)
addText("<b><i>p</i>&lt;.001</b>", 1979, 796, 34.7)
addText("<i>r</i> = .14", 1871, 1271, 53)
addText("ns", 2020, 1261, 34)

addVertical("No-Go N2-P3  µV", 233, 890, 52)
addVertical("NoGo N2-P3  µV", 233, 1362, 52)
addVertical("No-Go N2-P3  µV", 1512, 874, 52)
addVertical("NoGo N2-P3  µV", 1512, 1356, 52)

const sittingLabel = "Sitting Height (<i>z</i>)"
addText(sittingLabel, 308, 1129, 53.5)
addText(sittingLabel, 311, 1589, 53.5)
addText(sittingLabel, 1585, 1109, 53.5)
addText(sittingLabel, 1596, 1589, 53.5)

const serif = { fontFamily: '"Liberation Serif", serif' }
addText("P3", 1079, 919, 48, serif)
addText("N2", 1039, 1384, 51, serif)
addText("4µV", 922, 1040, 50, { ...serif, letterSpacing: "5px" })
addText("L-CSES", 1218, 1110, 53, { ...serif, color: "#ff0000" })
addText("H-CSES", 1119, 1240, 52.6, { ...serif, color: "#0000e6" })
addText("-40", 897, 1427, 31.6, serif)
addText("0", 966, 1427, 31.6, serif)
addText("200", 1027, 1427, 31.6, serif)
addText("400", 1102, 1427, 31.6, serif)
addText("600ms", 1177, 1427, 31.6, serif)
addText("Nogo Trial ERPs", 915, 1489, 64, serif)
addText("FCz", 1079, 1564, 63, serif)
</script>
</body>
</html>
